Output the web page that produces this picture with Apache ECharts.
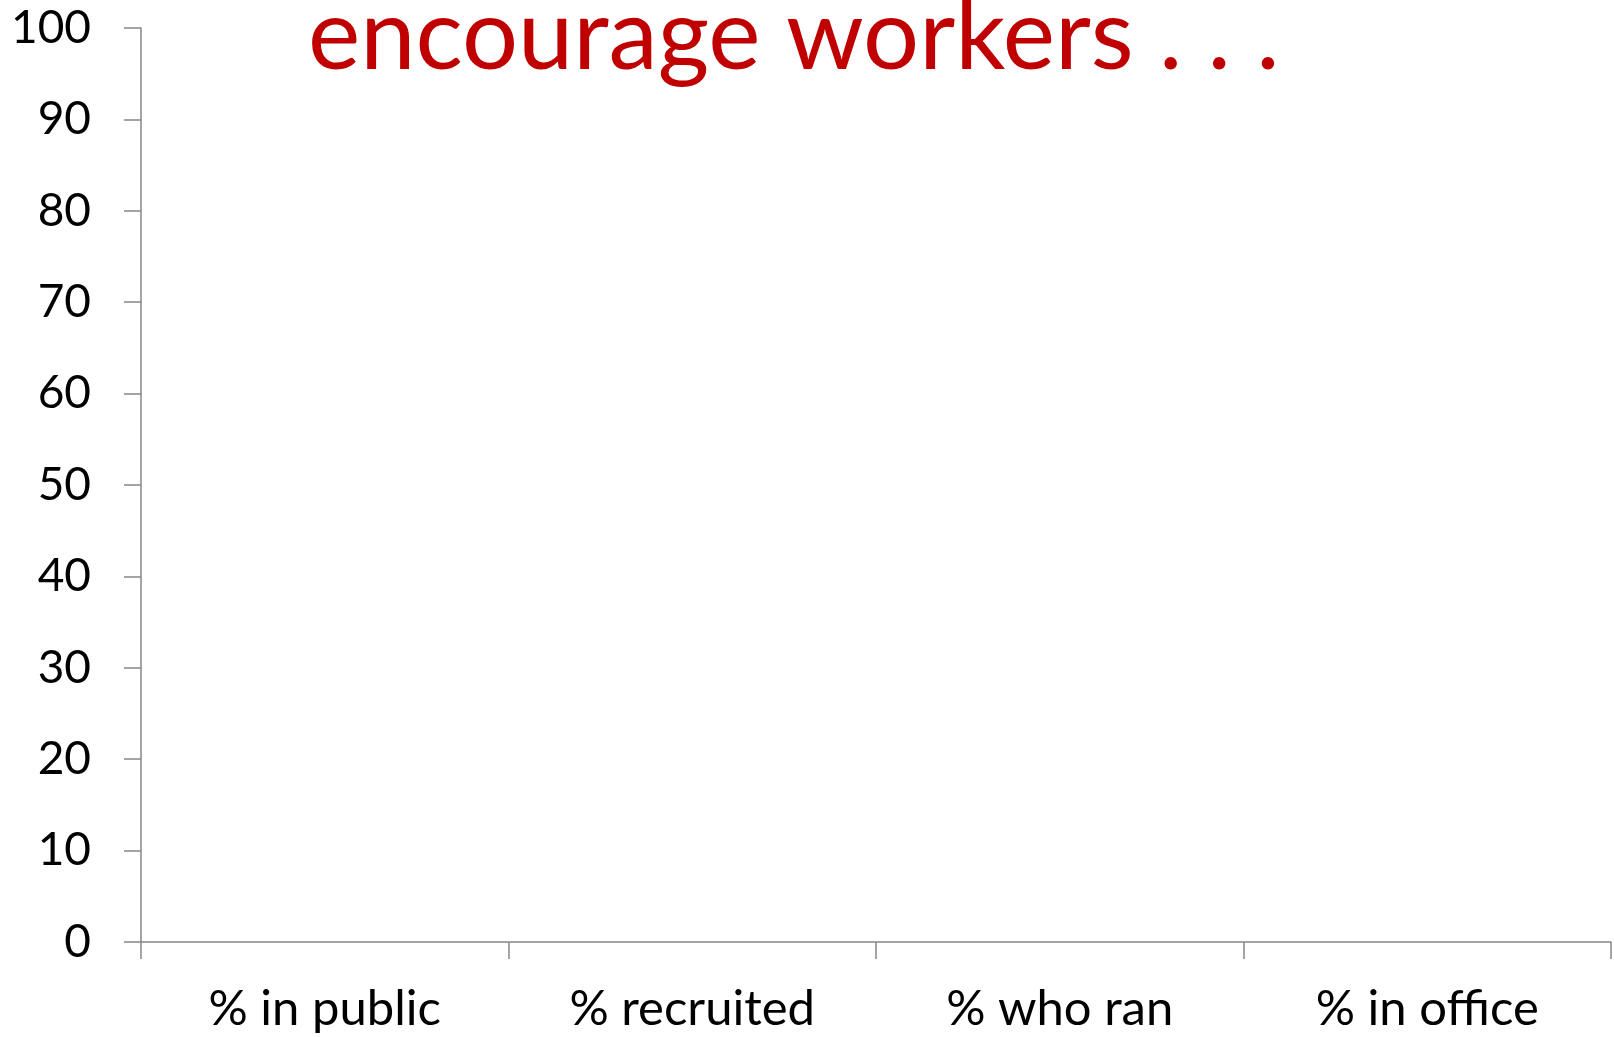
<!DOCTYPE html>
<html>
<head>
<meta charset="utf-8">
<script src="https://cdn.jsdelivr.net/npm/echarts@6/dist/echarts.min.js"></script>
<style>
  html, body { margin: 0; padding: 0; background: #ffffff; }
  #chart { width: 1614px; height: 1037px; }
</style>
</head>
<body>
<div id="chart"></div>
<script>
// Stages of the pipeline along the x axis
const categories = ['% in public', '% recruited', '% who ran', '% in office'];
// Share of workers at each stage (no values plotted yet)
const workerShare = [null, null, null, null];
// Y axis scale
const yMin = 0;
const yMax = 100;
const yStep = 10;

const chart = echarts.init(document.getElementById('chart'), null, { renderer: 'canvas' });

const axisGray = '#868686';
const fontFamily = 'Lato, "Open Sans", sans-serif';

chart.setOption({
  animation: false,
  backgroundColor: '#ffffff',
  title: {
    text: 'encourage workers . . .',
    left: 303,
    top: -17,
    textStyle: {
      color: '#C00000',
      fontFamily: fontFamily,
      fontWeight: 'normal',
      fontSize: 99
    }
  },
  grid: {
    left: 141,
    right: 3,
    top: 28,
    bottom: 95,
    containLabel: false
  },
  xAxis: {
    type: 'category',
    data: categories,
    boundaryGap: true,
    axisLine: { show: true, lineStyle: { color: axisGray, width: 1.5 } },
    axisTick: { show: true, alignWithLabel: false, length: 17, lineStyle: { color: axisGray, width: 1.5 } },
    axisLabel: {
      color: '#000000',
      fontFamily: fontFamily,
      fontSize: 49,
      margin: 43,
      interval: 0
    },
    splitLine: { show: false }
  },
  yAxis: {
    type: 'value',
    min: yMin,
    max: yMax,
    interval: yStep,
    axisLine: { show: true, lineStyle: { color: axisGray, width: 1.5 } },
    axisTick: { show: true, length: 17, lineStyle: { color: axisGray, width: 1.5 } },
    axisLabel: {
      color: '#000000',
      fontFamily: fontFamily,
      fontSize: 46,
      margin: 50
    },
    splitLine: { show: false }
  },
  series: [{
    type: 'bar',
    name: 'Workers',
    data: workerShare
  }]
});
</script>
</body>
</html>
